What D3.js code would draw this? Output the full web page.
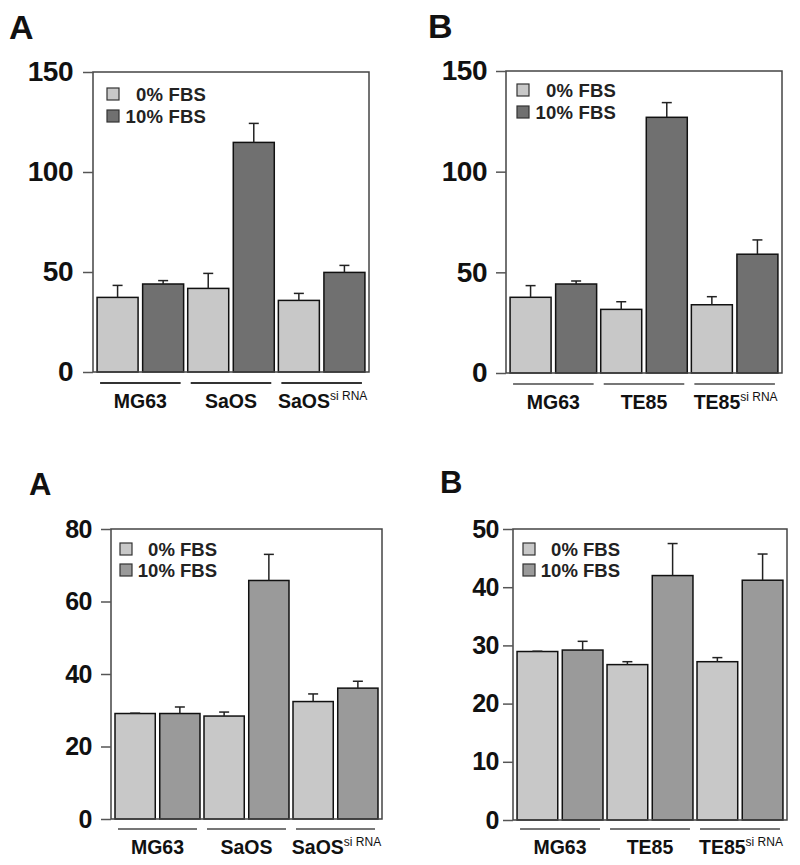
<!DOCTYPE html>
<html>
<head>
<meta charset="utf-8">
<script src="https://cdn.jsdelivr.net/npm/d3@7"></script>
<style>
  body { margin: 0; background: #fff; }
  svg { display: block; font-family: "Liberation Sans", Arial, sans-serif; }
</style>
</head>
<body>
<svg id="chart" width="800" height="865"></svg>
<script>
// ---- Data ----
const seriesNames = ["0% FBS", "10% FBS"];

// Panel A (top)
const catsA1 = ["MG63", "SaOS", "SaOS"];
const supA1 = ["", "", "si RNA"];
const a1_0 = [37.3, 41.8, 35.8];
const a1_0err = [6.0, 7.5, 3.5];
const a1_10 = [44.0, 114.8, 49.8];
const a1_10err = [1.7, 9.5, 3.5];
const ticksA1 = [0, 50, 100, 150];

// Panel B (top)
const catsB1 = ["MG63", "TE85", "TE85"];
const supB1 = ["", "", "si RNA"];
const b1_0 = [37.6, 31.6, 33.9];
const b1_0err = [5.8, 3.8, 4.0];
const b1_10 = [44.2, 127.0, 59.0];
const b1_10err = [1.5, 7.3, 7.1];
const ticksB1 = [0, 50, 100, 150];

// Panel A (bottom)
const catsA2 = ["MG63", "SaOS", "SaOS"];
const supA2 = ["", "", "si RNA"];
const a2_0 = [29.1, 28.4, 32.4];
const a2_0err = [0.1, 1.1, 2.1];
const a2_10 = [29.1, 65.8, 36.1];
const a2_10err = [1.8, 7.2, 1.9];
const ticksA2 = [0, 20, 40, 60, 80];

// Panel B (bottom)
const catsB2 = ["MG63", "TE85", "TE85"];
const supB2 = ["", "", "si RNA"];
const b2_0 = [28.95, 26.7, 27.2];
const b2_0err = [0.05, 0.5, 0.7];
const b2_10 = [29.2, 42.0, 41.2];
const b2_10err = [1.5, 5.5, 4.5];
const ticksB2 = [0, 10, 20, 30, 40, 50];

const svg = d3.select("#chart");

function drawPanel(cfg) {
  const g = svg.append("g");
  const {x0, x1, y0, y1} = cfg.box;
  const y = d3.scaleLinear().domain([0, cfg.max]).range([y1, y0]);
  const xg = d3.scaleBand().domain(d3.range(cfg.cats.length)).range([x0, x1])
    .paddingInner(0.045).paddingOuter(0.045);
  const xs = d3.scaleBand().domain([0, 1]).range([0, xg.bandwidth()])
    .paddingInner(0.1).paddingOuter(0);

  const data = [];
  cfg.cats.forEach((c, i) => {
    data.push({g: i, s: 0, v: cfg.v0[i], e: cfg.e0[i]});
    data.push({g: i, s: 1, v: cfg.v1[i], e: cfg.e1[i]});
  });
  const fills = [cfg.light, cfg.dark];

  // panel letter
  g.append("text").attr("x", cfg.letter[0]).attr("y", cfg.letter[1])
    .attr("font-size", cfg.letterSize).attr("font-weight", "bold").attr("fill", "#111")
    .text(cfg.letterText);

  // bars
  g.selectAll("rect.bar").data(data).join("rect")
    .attr("class", "bar")
    .attr("x", d => xg(d.g) + xs(d.s))
    .attr("width", xs.bandwidth())
    .attr("y", d => y(d.v))
    .attr("height", d => y(0) - y(d.v))
    .attr("fill", d => fills[d.s])
    .attr("stroke", "#111").attr("stroke-width", 1.5);

  // error bars
  const eb = g.selectAll("g.err").data(data).join("g").attr("class", "err");
  eb.append("line")
    .attr("x1", d => xg(d.g) + xs(d.s) + xs.bandwidth() / 2)
    .attr("x2", d => xg(d.g) + xs(d.s) + xs.bandwidth() / 2)
    .attr("y1", d => y(d.v)).attr("y2", d => y(d.v + d.e))
    .attr("stroke", "#222").attr("stroke-width", 1.5);
  eb.append("line")
    .attr("x1", d => xg(d.g) + xs(d.s) + xs.bandwidth() / 2 - 5)
    .attr("x2", d => xg(d.g) + xs(d.s) + xs.bandwidth() / 2 + 5)
    .attr("y1", d => y(d.v + d.e)).attr("y2", d => y(d.v + d.e))
    .attr("stroke", "#222").attr("stroke-width", 1.5);

  // box
  g.append("rect").attr("x", x0).attr("y", y0).attr("width", x1 - x0).attr("height", y1 - y0)
    .attr("fill", "none").attr("stroke", "#444").attr("stroke-width", 1.5);

  // y axis
  const ax = g.append("g").attr("transform", `translate(${x0},0)`)
    .call(d3.axisLeft(y).tickValues(cfg.ticks).tickSize(10).tickPadding(cfg.tickPad).tickFormat(d3.format("d")));
  ax.select(".domain").remove();
  ax.selectAll(".tick line").attr("stroke", "#555").attr("stroke-width", 1.5);
  ax.selectAll(".tick text").attr("font-size", cfg.tickSize).attr("font-weight", "bold")
    .attr("fill", "#111").attr("font-family", "'Liberation Sans', Arial, sans-serif")
    .attr("letter-spacing", "-0.5px");

  // group lines + labels
  cfg.cats.forEach((c, i) => {
    g.append("line")
      .attr("x1", xg(i) + 3).attr("x2", xg(i) + xg.bandwidth() - 3)
      .attr("y1", y1 + cfg.lineOff).attr("y2", y1 + cfg.lineOff)
      .attr("stroke", cfg.lineColor).attr("stroke-width", 2);
    const t = g.append("text")
      .attr("x", xg(i) + xg.bandwidth() / 2 + (cfg.sup[i] ? 1 : 0))
      .attr("y", y1 + cfg.labelOff)
      .attr("text-anchor", "middle").attr("font-size", cfg.catSize)
      .attr("font-weight", "bold").attr("fill", "#111");
    t.append("tspan").text(c);
    if (cfg.sup[i]) {
      t.append("tspan").attr("dy", -8).attr("font-size", 12).attr("font-weight", "normal").text(cfg.sup[i]);
    }
  });

  // legend
  seriesNames.forEach((s, i) => {
    const ly = y0 + cfg.leg.top + i * cfg.leg.gap;
    g.append("rect").attr("x", x0 + cfg.leg.sx).attr("y", ly - 13)
      .attr("width", 12).attr("height", 12)
      .attr("fill", fills[i]).attr("stroke", "#333").attr("stroke-width", 1.2);
    g.append("text").attr("x", x0 + cfg.leg.tx).attr("y", ly)
      .attr("text-anchor", "end").attr("font-size", cfg.leg.size)
      .attr("font-weight", "bold").attr("letter-spacing", cfg.leg.ls + "px")
      .attr("fill", "#222").text(s);
  });
}

drawPanel({
  box: {x0: 93, x1: 369, y0: 72, y1: 372}, max: 150, ticks: ticksA1,
  cats: catsA1, sup: supA1, v0: a1_0, e0: a1_0err, v1: a1_10, e1: a1_10err,
  light: "#c8c8c8", dark: "#707070", letter: [9, 39], letterSize: 34, letterText: "A",
  tickPad: 10, tickSize: 28, lineOff: 11, labelOff: 36, lineColor: "#333", catSize: 19.5,
  leg: {top: 29, gap: 22, sx: 14, tx: 113, size: 18.5, ls: 0.2}
});
drawPanel({
  box: {x0: 506, x1: 782, y0: 71, y1: 373}, max: 150, ticks: ticksB1,
  cats: catsB1, sup: supB1, v0: b1_0, e0: b1_0err, v1: b1_10, e1: b1_10err,
  light: "#c8c8c8", dark: "#707070", letter: [428, 38], letterSize: 34, letterText: "B",
  tickPad: 9, tickSize: 28, lineOff: 11, labelOff: 36, lineColor: "#777", catSize: 19.5,
  leg: {top: 26, gap: 22, sx: 11, tx: 110, size: 18.5, ls: 0.2}
});
drawPanel({
  box: {x0: 111, x1: 382, y0: 529, y1: 819}, max: 80, ticks: ticksA2,
  cats: catsA2, sup: supA2, v0: a2_0, e0: a2_0err, v1: a2_10, e1: a2_10err,
  light: "#c8c8c8", dark: "#9a9a9a", letter: [29, 495], letterSize: 31, letterText: "A",
  tickPad: 9, tickSize: 25, lineOff: 10, labelOff: 35, lineColor: "#777", catSize: 19.5,
  leg: {top: 27, gap: 21, sx: 9, tx: 106, size: 18.5, ls: 0}
});
drawPanel({
  box: {x0: 513, x1: 787, y0: 529, y1: 820}, max: 50, ticks: ticksB2,
  cats: catsB2, sup: supB2, v0: b2_0, e0: b2_0err, v1: b2_10, e1: b2_10err,
  light: "#c8c8c8", dark: "#9a9a9a", letter: [440, 493], letterSize: 31, letterText: "B",
  tickPad: 4, tickSize: 25, lineOff: 9, labelOff: 34, lineColor: "#777", catSize: 19.5,
  leg: {top: 27, gap: 21, sx: 10, tx: 107, size: 18.5, ls: 0}
});
</script>
</body>
</html>
